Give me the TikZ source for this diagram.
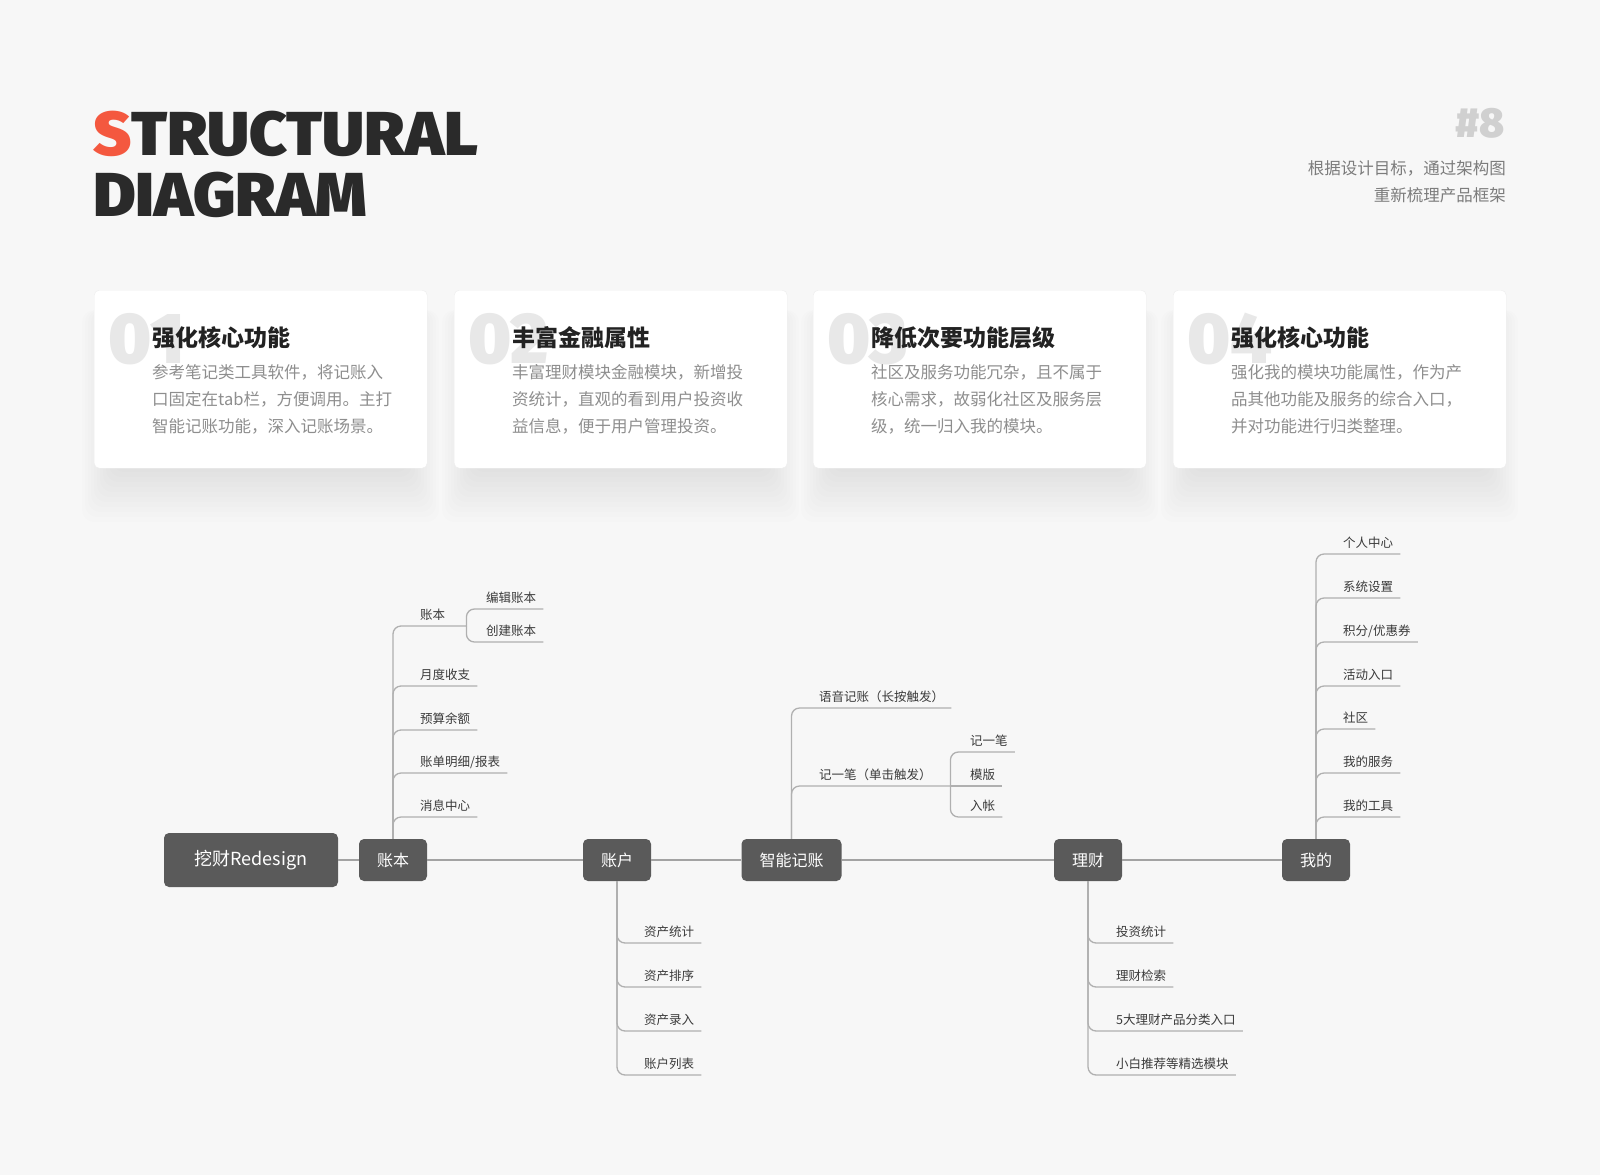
\documentclass[tikz,border=0pt]{standalone}
\usepackage{fontspec}
\setmainfont{Noto Sans CJK SC}
\IfFontExistsTF{Fira Sans Black}
  {\newfontfamily\headfont{Fira Sans Black}}
  {\newfontfamily\headfont{Fira Sans}[UprightFont={* Bold}]}

\definecolor{bgcol}{HTML}{F7F7F7}
\definecolor{headred}{HTML}{F4583F}
\definecolor{headdark}{HTML}{2A2A2A}
\definecolor{hashgray}{HTML}{D0D0D0}
\definecolor{subgray}{HTML}{7C7C7C}
\definecolor{cardline}{HTML}{EDEDED}
\definecolor{numgray}{HTML}{E8E8E8}
\definecolor{titledark}{HTML}{222222}
\definecolor{bodygray}{HTML}{8E8E8E}
\definecolor{nodegray}{HTML}{5A5A5A}
\definecolor{trunkgray}{HTML}{A3A3A3}
\definecolor{branchgray}{HTML}{B0B0B0}
\definecolor{leafgray}{HTML}{3A3A3A}

\tikzset{
  headline/.style={anchor=base west, inner sep=0pt, text=headdark,
    font=\headfont\fontsize{62}{62}\selectfont},
  hashtag/.style={anchor=base east, inner sep=0pt, text=hashgray,
    font=\headfont\fontsize{42}{42}\selectfont},
  subline/.style={anchor=base east, inner sep=0pt, text=subgray,
    font=\fontsize{16.5}{20}\selectfont},
  card/.style={anchor=north west, draw=cardline, fill=white, rounded corners=5pt,
    minimum width=333pt, minimum height=178pt},
  cardglow/.style={fill=black, opacity=0.007, rounded corners=12pt},
  cardnum/.style={anchor=base west, inner sep=0pt, text=numgray,
    font=\headfont\fontsize{72}{72}\selectfont},
  cardtitle/.style={anchor=base west, inner sep=0pt, text=titledark,
    font=\bfseries\fontsize{23}{26}\selectfont},
  cardtext/.style={anchor=base west, inner sep=0pt, text=bodygray,
    font=\fontsize{16.5}{20}\selectfont},
  mainnode/.style={fill=nodegray, text=white, rounded corners=5pt,
    minimum height=42pt, inner xsep=18pt, font=\fontsize{16}{19}\selectfont},
  rootnode/.style={mainnode, minimum width=174pt, minimum height=54pt,
    font=\fontsize{18}{21}\selectfont},
  leaf/.style={anchor=south west, inner xsep=7pt, inner ysep=4.5pt, text height=9pt,
    text depth=2pt, text=leafgray, font=\fontsize{12.5}{15}\selectfont},
  trunk/.style={draw=trunkgray, line width=2pt},
  branch/.style={draw=branchgray, line width=1.3pt, rounded corners=8pt},
}

\begin{document}
\begin{tikzpicture}[x=1pt, y=-1pt]
  \fill[bgcol] (0,0) rectangle (1600,1175);
  \useasboundingbox (0,0) rectangle (1600,1175);

  % Heading
  \node[headline] (headA) at (93,155) {\scalebox{1.05}[1]{\textcolor{headred}{S}TRUCTURAL}};
  \node[headline] (headB) at (93,216) {\scalebox{1.05}[1]{DIAGRAM}};
  \node[hashtag] (hash) at (1505,137) {\#8};
  \node[subline] (subA) at (1506,174) {根据设计目标，通过架构图};
  \node[subline] (subB) at (1506,201) {重新梳理产品框架};

  % Soft glow under the cards
  \foreach \cx in {94,454,813,1173}
    \foreach \i in {1,...,12}
      \fill[cardglow] (\cx+24-3*\i,310) rectangle (\cx+309+3*\i,462+5*\i);

  % Cards
  \node[card] (card1) at (94,290) {};
  \node[cardnum] (num1) at (108,363) {01};
  \node[cardtitle] (title1) at (152,346) {强化核心功能};
  \node[cardtext] (txt1a) at (152,378) {参考笔记类工具软件，将记账入};
  \node[cardtext] (txt1b) at (152,405) {口固定在tab栏，方便调用。主打};
  \node[cardtext] (txt1c) at (152,432) {智能记账功能，深入记账场景。};

  \node[card] (card2) at (454,290) {};
  \node[cardnum] (num2) at (468,363) {02};
  \node[cardtitle] (title2) at (512,346) {丰富金融属性};
  \node[cardtext] (txt2a) at (512,378) {丰富理财模块金融模块，新增投};
  \node[cardtext] (txt2b) at (512,405) {资统计，直观的看到用户投资收};
  \node[cardtext] (txt2c) at (512,432) {益信息，便于用户管理投资。};

  \node[card] (card3) at (813,290) {};
  \node[cardnum] (num3) at (827,363) {03};
  \node[cardtitle] (title3) at (871,346) {降低次要功能层级};
  \node[cardtext] (txt3a) at (871,378) {社区及服务功能冗杂，且不属于};
  \node[cardtext] (txt3b) at (871,405) {核心需求，故弱化社区及服务层};
  \node[cardtext] (txt3c) at (871,432) {级，统一归入我的模块。};

  \node[card] (card4) at (1173,290) {};
  \node[cardnum] (num4) at (1187,363) {04};
  \node[cardtitle] (title4) at (1231,346) {强化核心功能};
  \node[cardtext] (txt4a) at (1231,378) {强化我的模块功能属性，作为产};
  \node[cardtext] (txt4b) at (1231,405) {品其他功能及服务的综合入口，};
  \node[cardtext] (txt4c) at (1231,432) {并对功能进行归类整理。};

  % Main stages
  \node[rootnode] (root) at (251,860) {挖财Redesign};
  \node[mainnode] (zb) at (393,860) {账本};
  \node[mainnode] (zh) at (617,860) {账户};
  \node[mainnode] (zn) at (791.5,860) {智能记账};
  \node[mainnode] (lc) at (1088,860) {理财};
  \node[mainnode] (wd) at (1316,860) {我的};

  % Leaves of 账本
  \node[leaf, text width=39pt, align=left] (zbBook) at (413,626) {账本};
  \node[leaf] (zbEdit) at (479,609) {编辑账本};
  \node[leaf] (zbNew) at (479,642) {创建账本};
  \node[leaf] (zbMonth) at (413,686) {月度收支};
  \node[leaf] (zbBudget) at (413,730) {预算余额};
  \node[leaf] (zbBill) at (413,773) {账单明细/报表};
  \node[leaf] (zbMsg) at (413,817) {消息中心};

  % Leaves of 账户
  \node[leaf] (zhStat) at (637,943) {资产统计};
  \node[leaf] (zhSort) at (637,987) {资产排序};
  \node[leaf] (zhAdd) at (637,1031) {资产录入};
  \node[leaf] (zhList) at (637,1075) {账户列表};

  % Leaves of 智能记账
  \node[leaf] (znVoice) at (812,708) {语音记账（长按触发）};
  \node[leaf, text width=124pt, align=left] (znTap) at (812,786) {记一笔（单击触发）};
  \node[leaf] (znOne) at (963,752) {记一笔};
  \node[leaf] (znTpl) at (963,786) {模版};
  \node[leaf] (znIn) at (963,817) {入帐};

  % Leaves of 理财
  \node[leaf] (lcStat) at (1109,943) {投资统计};
  \node[leaf] (lcFind) at (1109,987) {理财检索};
  \node[leaf] (lcKind) at (1109,1031) {5大理财产品分类入口};
  \node[leaf] (lcPick) at (1109,1075) {小白推荐等精选模块};

  % Leaves of 我的
  \node[leaf] (wdMe) at (1336,554) {个人中心};
  \node[leaf] (wdSet) at (1336,598) {系统设置};
  \node[leaf] (wdPts) at (1336,642) {积分/优惠券};
  \node[leaf] (wdAct) at (1336,686) {活动入口};
  \node[leaf] (wdComm) at (1336,729) {社区};
  \node[leaf] (wdSrv) at (1336,773) {我的服务};
  \node[leaf] (wdTool) at (1336,817) {我的工具};

  % Connect nodes
  \draw[trunk] (root) -- (zb) -- (zh) -- (zn) -- (lc) -- (wd);

  \draw[branch] (zb.north) |- (zbBook.south east);
  \draw[branch] (zb.north) |- (zbMonth.south east);
  \draw[branch] (zb.north) |- (zbBudget.south east);
  \draw[branch] (zb.north) |- (zbBill.south east);
  \draw[branch] (zb.north) |- (zbMsg.south east);
  \draw[branch] (zbBook.south east) |- (zbEdit.south east);
  \draw[branch] (zbBook.south east) |- (zbNew.south east);

  \draw[branch] (zh.south) |- (zhStat.south east);
  \draw[branch] (zh.south) |- (zhSort.south east);
  \draw[branch] (zh.south) |- (zhAdd.south east);
  \draw[branch] (zh.south) |- (zhList.south east);

  \draw[branch] (zn.north) |- (znVoice.south east);
  \draw[branch] (zn.north) |- (znTap.south east);
  \draw[branch] (znTap.south east) |- (znOne.south east);
  \draw[branch] (znTap.south east) -- (znTpl.south east);
  \draw[branch] (znTap.south east) |- (znIn.south east);

  \draw[branch] (lc.south) |- (lcStat.south east);
  \draw[branch] (lc.south) |- (lcFind.south east);
  \draw[branch] (lc.south) |- (lcKind.south east);
  \draw[branch] (lc.south) |- (lcPick.south east);

  \draw[branch] (wd.north) |- (wdMe.south east);
  \draw[branch] (wd.north) |- (wdSet.south east);
  \draw[branch] (wd.north) |- (wdPts.south east);
  \draw[branch] (wd.north) |- (wdAct.south east);
  \draw[branch] (wd.north) |- (wdComm.south east);
  \draw[branch] (wd.north) |- (wdSrv.south east);
  \draw[branch] (wd.north) |- (wdTool.south east);
\end{tikzpicture}
\end{document}
